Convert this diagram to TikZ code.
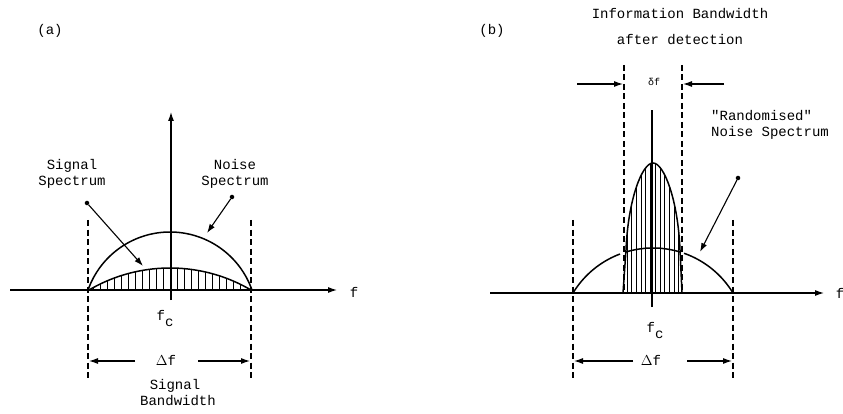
\documentclass[tikz,border=0pt]{standalone}
\usepackage{fontspec}
\setmonofont{Liberation Mono}
\usetikzlibrary{arrows.meta,calc}

\begin{document}
\begin{tikzpicture}[
  x=1pt, y=-1pt,
  font=\ttfamily\fontsize{14}{16}\selectfont,
  every node/.style={inner sep=0pt},
  axisline/.style={line width=1.2pt},
  curve/.style={line width=1.5pt},
  hatch/.style={line width=0.8pt},
  edgeline/.style={dash pattern=on 6pt off 3.5pt, line width=1.2pt},
  tip/.style={-{Latex[length=9pt,width=6pt]}, line width=1.1pt},
  dotc/.style={circle, fill, inner sep=1.6pt},
  lbl/.style={align=center}
]
\useasboundingbox (0,0) rectangle (843,414);

% ---------- (a) ----------
\node (tagA) at (50,31) {(a)};

% axes
\coordinate (aW) at (10,290);
\coordinate (aE) at (337,290);
\coordinate (aS) at (171,300);
\coordinate (aN) at (171,112);
\draw[axisline, tip] (aW) -- (aE);
\draw[axisline, tip] (aS) -- (aN);
\node (fA) at (354,292) {f};
\node (fcA) at (165,318) {f\raisebox{-6pt}{c}};

% band edges
\coordinate (aLtop) at (88,220);
\coordinate (aLbot) at (88,378);
\coordinate (aRtop) at (251,220);
\coordinate (aRbot) at (251,378);
\draw[edgeline] (aLtop) -- (aLbot);
\draw[edgeline] (aRtop) -- (aRbot);

% noise spectrum
\draw[curve] plot[domain=-82:82, samples=60] ({170+\x}, {290-(sqrt(86.98*86.98-\x*\x)-28.98)});
% signal spectrum, hatched
\draw[curve] plot[domain=-81:81, samples=60] ({170+\x}, {290-100*(sqrt(2.563-(\x/100)*(\x/100))-1.381)});
\foreach \x in {-77,-70,...,77} {
  \draw[hatch] ({170+\x},290) -- ({170+\x},{290-100*(sqrt(2.563-(\x/100)*(\x/100))-1.381)});
}

% labels and pointers
\node[lbl] (sigspec) at (72,174) {Signal\\Spectrum};
\node[lbl] (noisespec) at (235,174) {Noise\\Spectrum};
\node[dotc] (sigdot) at (87,203) {};
\coordinate (sigtip) at (143,266);
\draw[tip] (sigdot) -- (sigtip);
\node[dotc] (noisedot) at (232,197) {};
\coordinate (noisetip) at (207,233);
\draw[tip] (noisedot) -- (noisetip);

% bandwidth
\node (dfA) at (166,360) {$\Delta$f};
\coordinate (dfAL) at (135,361);
\coordinate (dfAR) at (198,361);
\coordinate (aLmid) at (89,361);
\coordinate (aRmid) at (250,361);
\draw[tip] (dfAL) -- (aLmid);
\draw[tip] (dfAR) -- (aRmid);
\node[lbl] (sigbw) at (175,393) {Signal\\\hspace*{6pt}Bandwidth};

% ---------- (b) ----------
\node (tagB) at (492,31) {(b)};
\node (infobw) at (680,14) {Information Bandwidth};
\node (afterdet) at (680,40) {after detection};

% axis
\coordinate (bW) at (490,293);
\coordinate (bE) at (824,293);
\draw[axisline, tip] (bW) -- (bE);
\node (fB) at (840,293) {f};
\coordinate (bS) at (652,307);
\coordinate (bN) at (652,110);
\draw[axisline] (bS) -- (bN);
\node (fcB) at (655,330) {f\raisebox{-6pt}{c}};

% outer band edges
\coordinate (bLtop) at (573,220);
\coordinate (bLbot) at (573,378);
\coordinate (bRtop) at (733,220);
\coordinate (bRbot) at (733,378);
\draw[edgeline] (bLtop) -- (bLbot);
\draw[edgeline] (bRtop) -- (bRbot);

% inner band edges
\coordinate (biLtop) at (624,65);
\coordinate (biLbot) at (624,293);
\coordinate (biRtop) at (682,65);
\coordinate (biRbot) at (682,293);
\draw[edgeline] (biLtop) -- (biLbot);
\draw[edgeline] (biRtop) -- (biRbot);

% randomised noise spectrum
\foreach \a/\b in {-80/-33,-28/28,31/80} {
  \draw[curve] plot[domain=\a:\b, samples=30] ({653+\x}, {293-(sqrt(93.6*93.6-\x*\x)-48.6)});
}

% detected signal, hatched
\begin{scope}
  \clip (623,293) -- (626,250) .. controls (628,200) and (642,163) .. (653,163)
        .. controls (664,163) and (678,200) .. (680,250) -- (682,293) -- cycle;
  \foreach \x in {627,631.7,...,681} {
    \draw[hatch] (\x,293) -- (\x,150);
  }
\end{scope}
\draw[curve] (623,293) -- (626,250) .. controls (628,200) and (642,163) .. (653,163)
      .. controls (664,163) and (678,200) .. (680,250) -- (682,293);

% information bandwidth arrows
\node[font=\ttfamily\fontsize{10}{12}\selectfont] (dfsmall) at (654,82) {δf};
\coordinate (topL) at (577,84);
\coordinate (topLend) at (623,84);
\coordinate (topR) at (724,84);
\coordinate (topRend) at (683,84);
\draw[tip] (topL) -- (topLend);
\draw[tip] (topR) -- (topRend);

% pointer
\node[align=left, anchor=west] (randspec) at (711,125) {"Randomised"\\ Noise Spectrum};
\node[dotc] (randdot) at (738,178) {};
\coordinate (randtip) at (700,252);
\draw[tip] (randdot) -- (randtip);

% bandwidth
\node (dfB) at (651,360) {$\Delta$f};
\coordinate (dfBL) at (633,361);
\coordinate (dfBR) at (687,361);
\coordinate (bLmid) at (574,361);
\coordinate (bRmid) at (732,361);
\draw[tip] (dfBL) -- (bLmid);
\draw[tip] (dfBR) -- (bRmid);

\end{tikzpicture}
\end{document}
